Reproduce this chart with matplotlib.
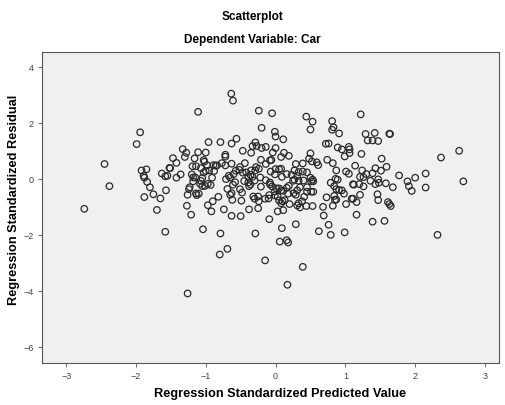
import matplotlib
matplotlib.use("Agg")
import matplotlib.pyplot as plt

# Regression standardized predicted value (x) and residual (y)
pred = [
 -0.635,-0.61,-1.11,-0.24,-0.05,0.44,0.53,0.50,0.81,0.83,0.81,0.91,1.22,-1.94,-1.99,-0.20,-0.01,0.00,0.11,1.29,
 1.42,1.32,1.39,1.47,1.63,1.64,-0.96,-0.79,-0.56,-0.63,-0.29,-0.27,-0.20,-0.14,0.00,-0.47,-0.33,-0.35,-0.04,0.08,
 0.12,0.19,-0.06,-0.08,-1.33,-1.28,-1.30,-1.47,-1.42,-1.11,-1.00,-1.16,-1.03,-1.02,-1.14,-1.19,-1.07,-0.98,-0.89,-0.84,
 -0.86,-0.72,-0.72,-0.72,-0.77,-0.63,-0.88,-2.45,-2.38,-2.74,-1.92,-1.85,-1.89,-1.88,-1.84,-1.80,-1.88,-1.75,-1.65,-1.70,
 -1.63,-1.58,-1.55,-1.51,-1.52,-1.42,-1.36,-1.57,-1.58,2.63,2.37,2.69,2.15,2.15,2.00,1.89,1.91,1.95,1.77,1.68,
 2.32,1.52,1.59,1.43,1.51,1.39,1.36,1.47,1.48,1.43,1.58,1.46,1.47,1.61,1.63,1.65,1.39,1.56,1.23,1.14,
 1.24,1.30,1.21,1.26,1.20,1.26,1.21,1.12,1.11,1.11,1.09,1.16,1.16,1.01,0.99,1.05,1.06,1.06,0.99,0.89,
 0.95,0.72,0.76,0.74,0.82,0.87,1.01,1.05,0.86,0.89,0.79,0.84,0.87,0.91,0.95,0.98,0.84,0.87,0.85,0.82,
 0.73,0.68,0.69,0.76,0.79,0.50,0.48,0.52,0.59,0.61,0.39,0.45,0.39,0.33,0.29,0.27,0.31,0.27,0.25,0.33,
 0.40,0.50,0.53,0.51,0.54,0.35,0.45,0.31,0.45,0.51,0.54,0.26,0.29,0.41,0.38,0.33,0.31,0.35,0.44,0.53,
 0.29,0.62,0.39,0.05,0.08,0.00,-0.01,0.09,0.16,0.23,0.19,0.16,0.05,0.08,0.11,0.01,-0.01,-0.05,-0.08,-0.08,
 -0.01,0.03,0.18,0.13,0.20,0.05,0.10,0.08,0.03,0.11,-0.09,0.09,0.06,0.16,0.18,0.17,-0.15,-0.07,-0.14,-0.21,
 -0.28,-0.24,-0.29,-0.35,-0.36,-0.33,-0.39,-0.42,-0.47,-0.52,-0.51,-0.44,-0.57,-0.60,-0.67,-0.65,-0.71,-0.58,-0.61,-0.51,
 -0.45,-0.39,-0.36,-0.30,-0.22,-0.21,-0.14,-0.09,-0.25,-0.32,-0.30,-0.24,-0.15,-0.10,-0.38,-0.48,-0.69,-0.63,-0.65,-0.62,
 -0.49,-0.38,-0.25,-0.63,-0.50,-0.29,-0.74,-0.82,-0.79,-0.69,-0.80,-1.00,-1.03,-0.95,-0.91,-0.97,-0.93,-1.05,-1.07,-1.05,
 -1.01,-1.08,-1.15,-1.18,-1.20,-1.18,-1.23,-1.24,-1.26,-1.14,-1.10,-1.13,-1.27,-1.21,-0.97,-0.90,-0.92,-1.04,-1.26,
]
resid = [
 3.05,2.80,2.40,2.44,2.35,2.23,2.05,1.77,2.07,1.85,1.76,1.63,2.31,1.67,1.25,1.83,1.69,1.52,1.42,1.61,
 1.65,1.38,1.38,1.36,1.62,1.61,1.32,1.32,1.44,1.27,1.31,1.18,1.11,1.15,1.11,1.01,1.18,0.94,0.95,0.79,
 0.94,0.83,0.68,0.67,1.07,0.94,0.79,0.75,0.58,0.96,0.95,0.74,0.68,0.62,0.46,0.46,0.39,0.49,0.50,0.49,
 0.48,0.87,0.80,0.49,0.57,0.55,0.29,0.54,-0.25,-1.06,0.31,0.35,0.12,0.05,-0.10,-0.29,-0.64,-0.54,-0.69,-1.10,
 0.20,0.10,0.12,0.39,0.40,0.05,0.17,-0.40,-1.88,1.01,0.77,-0.08,0.20,-0.30,0.05,-0.08,-0.25,-0.42,0.13,-0.29,
 -1.99,0.73,0.44,0.39,0.30,0.21,-0.06,-0.01,-0.13,-0.18,-0.15,-0.54,-0.75,-0.82,-0.89,-0.96,-1.52,-1.49,0.90,0.48,
 0.31,0.18,0.08,0.07,-0.18,-0.26,-0.56,-0.20,-0.18,-0.70,-0.70,-0.82,-1.27,-0.89,-1.90,1.15,1.06,0.93,0.81,1.13,
 1.06,1.26,1.27,0.69,0.57,0.31,0.27,0.19,0.01,-0.02,-0.13,-0.25,-0.36,-0.39,-0.40,-0.52,-0.60,-0.73,-0.74,-0.95,
 -0.65,-0.99,-1.30,-1.63,-1.99,0.92,0.73,0.63,0.60,0.50,0.56,0.24,0.27,0.25,0.54,0.31,0.11,-0.02,-0.06,-0.06,
 -0.05,0.05,-0.02,-0.08,-0.08,-0.29,-0.29,-0.40,-0.45,-0.45,-0.45,-0.50,-0.56,-0.63,-0.79,-0.86,-0.94,-1.01,-0.96,-0.96,
 -1.61,-1.86,-3.13,0.35,0.37,0.36,0.17,0.08,0.18,0.15,-0.24,-0.31,-0.33,-0.40,-0.42,-0.33,-0.44,-0.26,-0.19,-0.12,
 -0.58,-0.62,-0.52,-0.75,-0.89,-0.76,-0.79,-0.86,-1.15,-1.11,-1.43,-1.75,-2.23,-2.18,-2.26,-3.77,-2.90,0.27,0.54,0.69,
 0.43,0.37,0.31,0.31,0.15,0.08,0.08,0.24,0.23,0.33,0.43,0.57,0.30,0.18,0.12,0.06,0.00,-0.11,-0.20,-0.36,
 -0.07,-0.12,-0.19,-0.05,0.06,-0.27,-0.04,-0.57,-0.62,-0.62,-0.70,-0.79,-0.70,-0.69,-0.25,-0.48,-0.35,-0.50,-0.56,-0.74,
 -0.77,-1.08,-1.04,-1.31,-1.32,-1.94,-1.08,-0.63,-1.94,-2.49,-2.69,0.29,0.24,0.31,0.05,-0.17,-0.21,0.04,-0.06,-0.25,
 -0.24,-0.17,0.06,0.06,0.17,-0.08,-0.29,-0.36,-0.56,-0.51,-0.52,-0.57,-0.95,-1.27,-0.93,-0.79,-1.15,-1.79,-4.08,
]

x_ticks = [-3, -2, -1, 0, 1, 2, 3]
y_ticks = [-6, -4, -2, 0, 2, 4]

plt.rcParams['font.family'] = ['Liberation Sans', 'DejaVu Sans']

fig = plt.figure(figsize=(5.05, 4.05), dpi=100)
ax = fig.add_axes([0.084, 0.1045, 0.904, 0.766])
ax.set_facecolor('#f0f0f0')
ax.scatter(pred, resid, s=22, facecolors='none', edgecolors='#2a2a2a', linewidths=0.9)

ax.set_xlim(-3.34, 3.2)
ax.set_ylim(-6.55, 4.52)
ax.set_xticks(x_ticks)
ax.set_yticks(y_ticks)
ax.tick_params(direction='out', length=3, width=0.6, colors='#555555', labelsize=6.5, labelcolor='#444444')
for s in ax.spines.values():
    s.set_color('#555555')
    s.set_linewidth(0.8)

fig.text(0.554, 0.027, 'Regression Standardized Predicted Value', ha='center', va='center',
         fontsize=9.2, fontweight='bold')
fig.text(0.028, 0.506, 'Regression Standardized Residual', ha='center', va='center',
         rotation=90, fontsize=9.2, fontweight='bold')
fig.text(0.5, 0.958, 'Scatterplot', ha='center', va='center', fontsize=8.5, fontweight='bold')
fig.text(0.5, 0.902, 'Dependent Variable: Car', ha='center', va='center', fontsize=8.5, fontweight='bold')

fig.savefig('out.png', dpi=100)
